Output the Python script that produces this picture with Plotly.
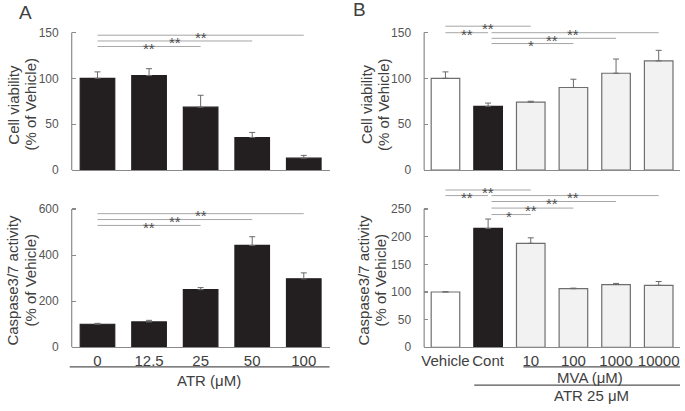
import plotly.graph_objects as go

# ---------------- data ----------------
atr_doses = ["0", "12.5", "25", "50", "100"]
viab_A = [100, 103, 68.5, 35.5, 13]
viab_A_err = [7, 7.5, 13, 5.5, 3]
casp_A = [100, 110, 250, 442, 297]
casp_A_err = [4, 7, 9, 38, 26]

groups_B = ["Vehicle", "Cont", "10", "100", "1000", "10000"]
viab_B = [100, 69.5, 74, 90, 105.5, 119]
viab_B_err = [7, 3.5, 1, 9, 15.5, 11.5]
casp_B = [100, 215, 188, 106, 113.5, 112]
casp_B_err = [0.5, 17, 10, 1, 2, 7]

# significance brackets: (from index, to index, y value, label)
sig_A_top = [(0, 2, 134.7, "**"), (0, 3, 140.7, "**"), (0, 4, 147, "**")]
sig_A_bot = [(0, 2, 529, "**"), (0, 3, 554.5, "**"), (0, 4, 580, "**")]
sig_B_top = [(0, 2, 156.8, "**"), (0, 1, 149.7, "**"), (1, 5, 149.7, "**"),
             (1, 4, 143.6, "**"), (1, 3, 137.9, "*")]
sig_B_bot = [(0, 2, 284.5, "**"), (0, 1, 274.4, "**"), (1, 5, 274.4, "**"),
             (1, 4, 263.7, "**"), (1, 3, 251.8, "**"), (1, 2, 240.1, "*")]

# ---------------- style ----------------
W, H = 685, 411
FONT = "Liberation Sans, Arial, sans-serif"
BLACK = "#231f20"
AXIS = "#8a8a8a"
TXT = "#404040"
TICKTXT = "#555555"
SIGLINE = "#a6a6a6"
EDGE = "#6e6e6e"
STAR = "#4a4a4a"

def px(x):
    return x / W

def py(y):
    return 1 - y / H

fig = go.Figure()

def add_bars(xa, ya, vals, errs, colors, lines):
    fig.add_trace(go.Bar(
        x=list(range(len(vals))), y=vals, width=0.67,
        marker=dict(color=colors, line=dict(color=lines, width=1.2)),
        error_y=dict(type="data", array=errs, arrayminus=[0] * len(errs),
                     symmetric=False, color="#6a6a6a", thickness=1, width=3),
        xaxis=xa, yaxis=ya, showlegend=False, hoverinfo="skip"))

add_bars("x", "y", viab_A, viab_A_err, [BLACK] * 5, [BLACK] * 5)
add_bars("x2", "y2", casp_A, casp_A_err, [BLACK] * 5, [BLACK] * 5)
colB = ["#ffffff", BLACK] + ["#f2f2f2"] * 4
lineB = [EDGE, BLACK] + [EDGE] * 4
add_bars("x3", "y3", viab_B, viab_B_err, colB, lineB)
add_bars("x4", "y4", casp_B, casp_B_err, colB, lineB)

top_dom = [py(173), py(20)]
bot_dom = [py(353.3), py(186)]
A_dom = [px(69), px(328)]
B_dom = [px(423), px(680)]

def xax(dom, anchor, n, labels=None):
    d = dict(domain=dom, anchor=anchor, range=[-0.5, n - 0.5],
             showline=True, linecolor=AXIS, linewidth=1.2, ticks="",
             showgrid=False, zeroline=False, fixedrange=True)
    if labels is None:
        d["showticklabels"] = False
    else:
        d.update(tickmode="array", tickvals=list(range(n)), ticktext=labels,
                 tickfont=dict(family=FONT, size=15, color=TXT))
    return d

def yax(dom, anchor, top_tick, dtick, rng_top):
    return dict(domain=dom, anchor=anchor, range=[0, rng_top],
                tickmode="array", tickvals=list(range(0, top_tick + 1, dtick)),
                ticks="inside", ticklen=4, tickcolor=AXIS, tickwidth=1.2,
                showline=False, showgrid=False, zeroline=False,
                ticklabelstandoff=12,
                tickfont=dict(family=FONT, size=12, color=TICKTXT), fixedrange=True)

top_factor = (173 - 20) / 140
bot_factor = (353.3 - 186) / 140.6

fig.update_layout(
    xaxis=xax(A_dom, "y", 5),
    yaxis=yax(top_dom, "x", 150, 50, 150 * top_factor),
    xaxis2=xax(A_dom, "y2", 5, atr_doses),
    yaxis2=yax(bot_dom, "x2", 600, 200, 600 * bot_factor),
    xaxis3=xax(B_dom, "y3", 6),
    yaxis3=yax(top_dom, "x3", 150, 50, 150 * top_factor),
    xaxis4=xax(B_dom, "y4", 6, groups_B),
    yaxis4=yax(bot_dom, "x4", 250, 50, 250 * bot_factor),
)

shapes = []
annotations = []

# y-axis lines (only up to the top tick)
for xr, yr, top in [("x", "y", 150), ("x2", "y2", 600), ("x3", "y3", 150), ("x4", "y4", 250)]:
    shapes.append(dict(type="line", xref=xr + " domain", yref=yr, x0=0, x1=0, y0=0, y1=top,
                       line=dict(color=AXIS, width=1.2)))

# significance brackets
def add_sig(xr, yr, sigs):
    for i0, i1, yv, lab in sigs:
        x0 = i0 + (0.08 if i0 == 1 else 0)
        shapes.append(dict(type="line", xref=xr, yref=yr, x0=x0, x1=i1, y0=yv, y1=yv,
                           line=dict(color=SIGLINE, width=1)))
        annotations.append(dict(xref=xr, yref=yr, x=(i0 + i1) / 2, y=yv, text=lab,
                                showarrow=False, yanchor="middle", yshift=-2,
                                font=dict(family=FONT, size=15, color=STAR)))

add_sig("x", "y", sig_A_top)
add_sig("x2", "y2", sig_A_bot)
add_sig("x3", "y3", sig_B_top)
add_sig("x4", "y4", sig_B_bot)

# y-axis titles (two lines each)
def ytitle(xc1, xc2, yc, line1):
    for xc, t in [(xc1, line1), (xc2, "(% of Vehicle)")]:
        annotations.append(dict(xref="paper", yref="paper", x=px(xc), y=py(yc), text=t,
                                textangle=-90, showarrow=False, xanchor="center",
                                yanchor="middle",
                                font=dict(family=FONT, size=15, color=TXT)))

ytitle(10.5, 27.5, 106, "Cell viability")
ytitle(9.5, 27.5, 285, "Caspase3/7 activity")
ytitle(364.5, 381.5, 106, "Cell viability")
ytitle(362, 379, 285, "Caspase3/7 activity")

# group underlines and labels below the x axes
def hline(x0, x1, y):
    shapes.append(dict(type="line", xref="paper", yref="paper", x0=px(x0), x1=px(x1),
                       y0=py(y), y1=py(y), line=dict(color="#555555", width=1.2)))

def label(x, y, t, size=15):
    annotations.append(dict(xref="paper", yref="paper", x=px(x), y=py(y), text=t,
                            showarrow=False, xanchor="center", yanchor="middle",
                            font=dict(family=FONT, size=size, color=TXT)))

hline(67, 328, 373.3)
label(207, 386.7, "ATR (μM)")
hline(522.7, 680, 373.3)
label(590, 384.3, "MVA (μM)")
hline(473.3, 680, 391.7)
label(590.7, 402.3, "ATR 25 μM")

# panel letters
label(22.5, 13, "A", size=19)
label(358.5, 10, "B", size=19)

fig.update_layout(
    width=W, height=H, margin=dict(l=0, r=0, t=0, b=0),
    paper_bgcolor="white", plot_bgcolor="white",
    shapes=shapes, annotations=annotations, showlegend=False,
    font=dict(family=FONT, color=TXT),
)

fig.write_html("out.html",
               config={"displayModeBar": False, "staticPlot": True},
               post_script="document.body.style.margin='0px';document.body.style.overflow='hidden';")
